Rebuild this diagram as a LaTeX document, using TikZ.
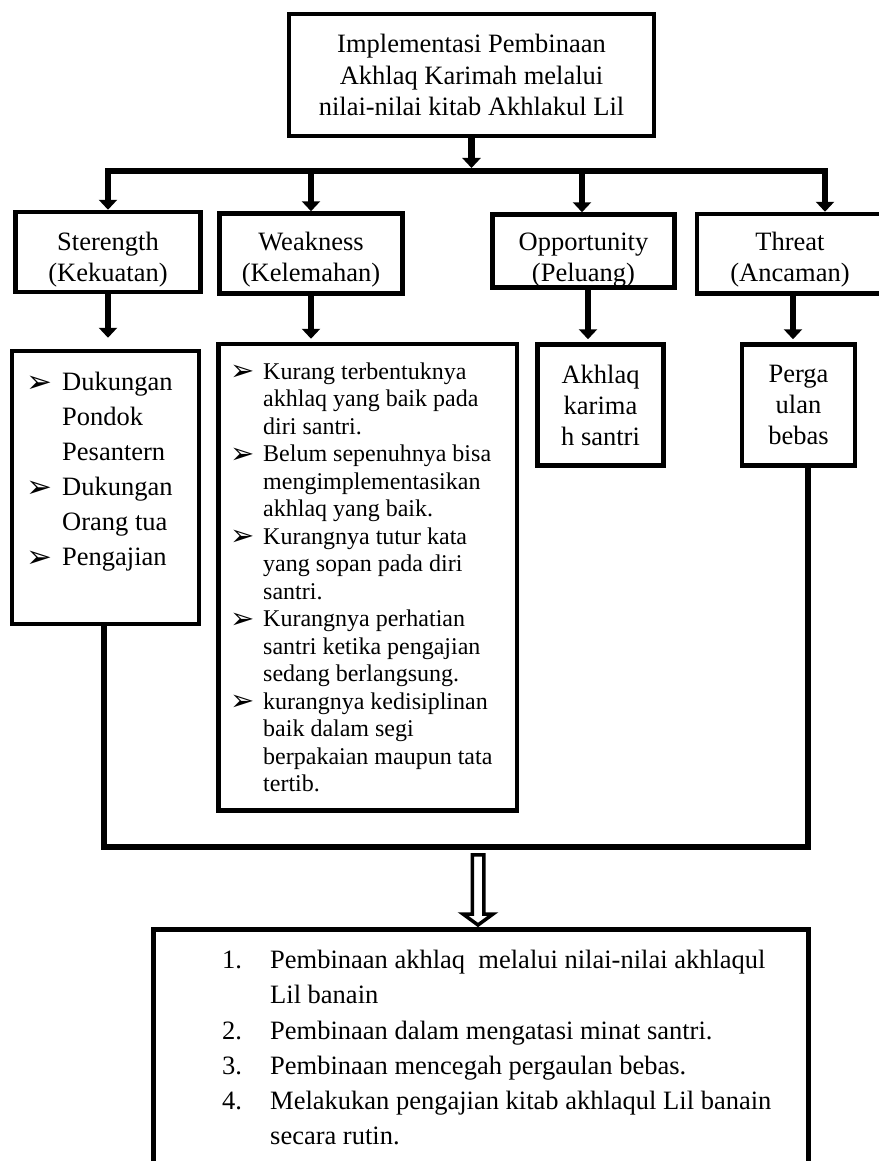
\documentclass[tikz,border=0pt]{standalone}
\usepackage{fontspec}
\setmainfont{Liberation Serif}
\newfontfamily\dejavu{DejaVu Sans}
\usetikzlibrary{arrows.meta,calc}
\newcommand\bulA{\makebox[36pt][l]{\raisebox{-1.5pt}{\dejavu\fontsize{31}{31}\selectfont ➢}}}
\newcommand\indA{\hspace*{36pt}}
\newcommand\bulB{\makebox[33pt][l]{\raisebox{-1.5pt}{\dejavu\fontsize{29}{29}\selectfont ➢}}}
\newcommand\indB{\hspace*{33pt}}
\newcommand\numC[1]{\makebox[48pt][l]{#1}}
\newcommand\indC{\hspace*{48pt}}
\newcommand\lift[1]{\rule{0pt}{#1pt}}
\begin{document}
\begin{tikzpicture}[x=1pt,y=-1pt,
  box/.style={draw,line width=4.5pt,inner sep=0pt,align=center,
    font=\fontsize{26.5}{32}\selectfont},
  swot/.style={box,font=\fontsize{26.5}{31}\selectfont},
  conn/.style={line width=6.5pt},
  arr/.style={conn,-{Triangle[width=18pt,length=10pt]}},
  openarr/.style={line width=3.5pt,line join=miter},
  listtxt/.style={inner sep=0pt,anchor=north west,align=left},
]
\useasboundingbox (0,0) rectangle (878,1161);
\fill[white] (0,0) rectangle (878,1161);

% top box
\node[box,minimum width=365pt,minimum height=122pt,
  font=\fontsize{26.5}{31.5}\selectfont] (top) at (471.5,75)
  {Implementasi Pembinaan\\Akhlaq Karimah melalui\\nilai-nilai kitab Akhlakul Lil};

% SWOT boxes
\node[swot,minimum width=185pt,minimum height=80pt]
  (S) at (108,252) {\lift{34}Sterength\\(Kekuatan)};
\node[swot,minimum width=183pt,minimum height=80pt]
  (W) at (311,253.5) {\lift{31}Weakness\\(Kelemahan)};
\node[swot,minimum width=182pt,minimum height=73pt]
  (O) at (583.5,251) {\lift{35}Opportunity\\(Peluang)};
\node[swot,minimum width=186pt,minimum height=79.5pt]
  (T) at (790,253.75) {\lift{30.5}Threat\\(Ancaman)};

% list boxes
\node[box,minimum width=187pt,minimum height=273pt] (L1) at (105.5,487.5) {};
\node[box,minimum width=298.5pt,minimum height=466.5pt] (L2) at (367.75,577.25) {};
\node[box,minimum width=126pt,minimum height=121pt,font=\fontsize{26.5}{31}\selectfont]
  (L3) at (600.5,405) {Akhlaq\\karima\\h santri};
\node[box,minimum width=113pt,minimum height=121pt,font=\fontsize{26.5}{31}\selectfont]
  (L4) at (798.5,405) {Perga\\ulan\\bebas};

\node[listtxt,font=\fontsize{26.5}{35}\selectfont] (t1) at (26,372)
  {\bulA Dukungan\\ \indA Pondok\\ \indA Pesantern\\ \bulA Dukungan\\ \indA Orang tua\\ \bulA Pengajian};

\node[listtxt,font=\fontsize{24}{27.5}\selectfont] (t2) at (230,362.5)
  {\bulB Kurang terbentuknya\\ \indB akhlaq yang baik pada\\ \indB diri santri.\\
   \bulB Belum sepenuhnya bisa\\ \indB mengimplementasikan\\ \indB akhlaq yang baik.\\
   \bulB Kurangnya tutur kata\\ \indB yang sopan pada diri\\ \indB santri.\\
   \bulB Kurangnya perhatian\\ \indB santri ketika pengajian\\ \indB sedang berlangsung.\\
   \bulB kurangnya kedisiplinan\\ \indB baik dalam segi\\ \indB berpakaian maupun tata\\ \indB tertib.};

% connectors
\coordinate (jn) at (471.5,171);
\draw[arr,shorten >=3pt] (top.south) -- (jn);
\draw[arr] (jn) -| (S.north);
\draw[arr] (jn) -| (W.north);
\draw[arr] (jn) -| ([xshift=-1.5pt]O.north);
\draw[arr] (jn) -| ([xshift=35pt]T.north);

\draw[arr,shorten >=11pt] (S.south) -- (S.south |- L1.north);
\draw[arr,shorten >=3pt] (W.south) -- (W.south |- L2.north);
\draw[arr,shorten >=3pt] ([xshift=4.5pt]O.south) -- ([xshift=4.5pt]O.south |- L3.north);
\draw[arr,shorten >=3pt] ([xshift=3pt]T.south) -- ([xshift=3pt]T.south |- L4.north);

\coordinate (encl) at (478,847);
\draw[conn] ([xshift=-1.5pt]L1.south) |- (encl) -| ([xshift=9.5pt]L4.south);

% bottom box (open at the bottom)
\coordinate (btop) at (478,929.5);
\draw[line width=4.5pt] (153.5,1175) -- (153.5,929.5) -- (btop) -- (808.5,929.5) -- (808.5,1175);

% open arrow
\draw[openarr] ([shift={(-5.75,-74.75)}]btop) -- ([shift={(-5.75,-15.5)}]btop)
  -- ([shift={(-15,-15.5)}]btop) -- ([shift={(0,-4.5)}]btop)
  -- ([shift={(15,-15.5)}]btop) -- ([shift={(5.75,-15.5)}]btop)
  -- ([shift={(5.75,-74.75)}]btop) -- cycle;

\node[listtxt,font=\fontsize{26.5}{35.2}\selectfont] (t3) at (222,950)
  {\numC{1.}Pembinaan akhlaq\ \ melalui nilai-nilai akhlaqul\\ \indC Lil banain\\
   \numC{2.}Pembinaan dalam mengatasi minat santri.\\
   \numC{3.}Pembinaan mencegah pergaulan bebas.\\
   \numC{4.}Melakukan pengajian kitab akhlaqul Lil banain\\ \indC secara rutin.};
\end{tikzpicture}
\end{document}
